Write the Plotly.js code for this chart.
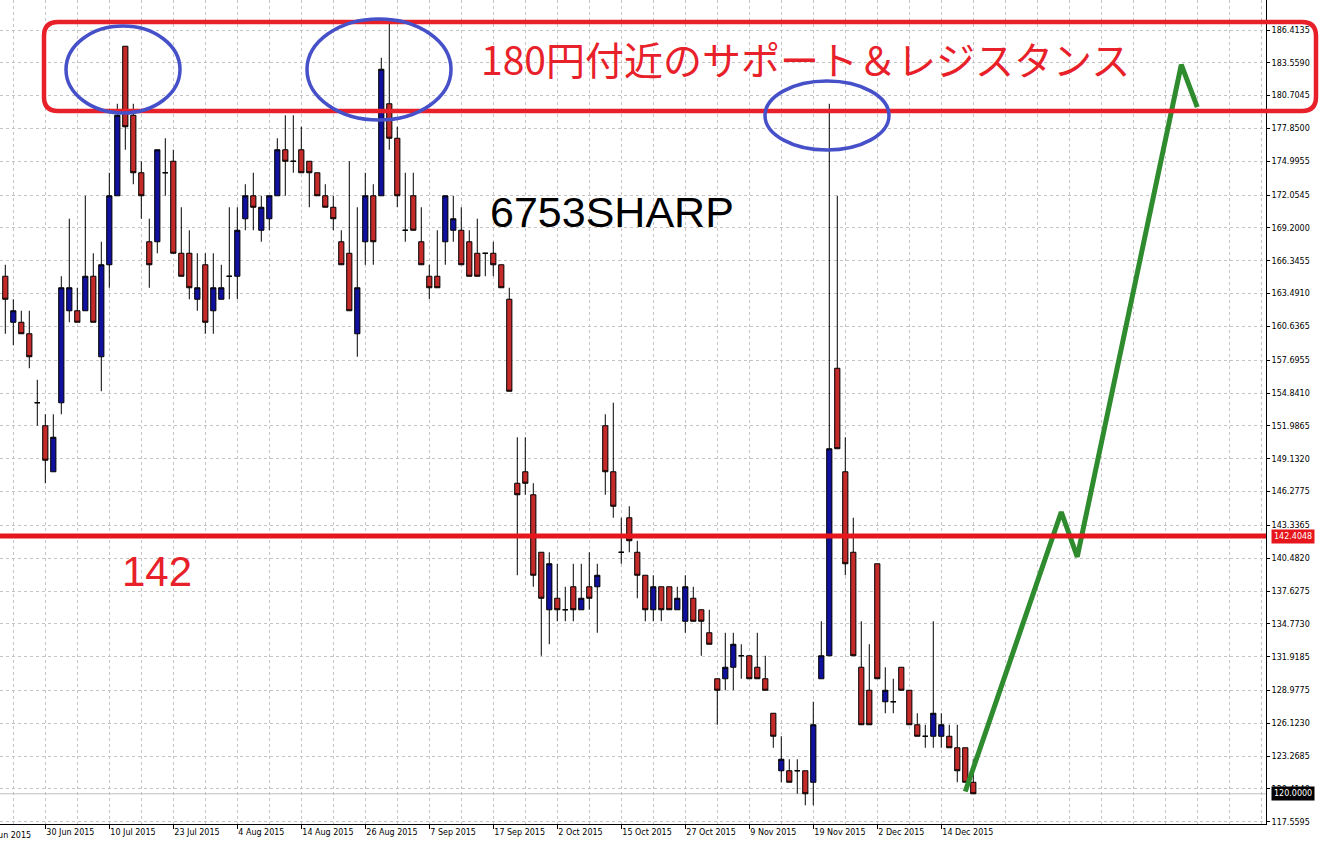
<!DOCTYPE html>
<html><head><meta charset="utf-8">
<script src="https://cdn.plot.ly/plotly-3.0.1.min.js"></script>
<style>html,body{margin:0;padding:0;background:#fff;overflow:hidden}#chart{width:1320px;height:844px}</style>
</head><body><div id="chart"></div>
<script>
// ---- data ----
const dates = [
'2015-06-23','2015-06-24','2015-06-25','2015-06-26','2015-06-29','2015-06-30','2015-07-01','2015-07-02','2015-07-03','2015-07-06',
'2015-07-07','2015-07-08','2015-07-09','2015-07-10','2015-07-13','2015-07-14','2015-07-15','2015-07-16','2015-07-17','2015-07-21',
'2015-07-22','2015-07-23','2015-07-24','2015-07-27','2015-07-28','2015-07-29','2015-07-30','2015-07-31','2015-08-03','2015-08-04',
'2015-08-05','2015-08-06','2015-08-07','2015-08-10','2015-08-11','2015-08-12','2015-08-13','2015-08-14','2015-08-17','2015-08-18',
'2015-08-19','2015-08-20','2015-08-21','2015-08-24','2015-08-25','2015-08-26','2015-08-27','2015-08-28','2015-08-31','2015-09-01',
'2015-09-02','2015-09-03','2015-09-04','2015-09-07','2015-09-08','2015-09-09','2015-09-10','2015-09-11','2015-09-14','2015-09-15',
'2015-09-16','2015-09-17','2015-09-18','2015-09-24','2015-09-25','2015-09-28','2015-09-29','2015-09-30','2015-10-01','2015-10-02',
'2015-10-05','2015-10-06','2015-10-07','2015-10-08','2015-10-09','2015-10-13','2015-10-14','2015-10-15','2015-10-16','2015-10-19',
'2015-10-20','2015-10-21','2015-10-22','2015-10-23','2015-10-26','2015-10-27','2015-10-28','2015-10-29','2015-10-30','2015-11-02',
'2015-11-04','2015-11-05','2015-11-06','2015-11-09','2015-11-10','2015-11-11','2015-11-12','2015-11-13','2015-11-16','2015-11-17',
'2015-11-18','2015-11-19','2015-11-20','2015-11-24','2015-11-25','2015-11-26','2015-11-27','2015-11-30','2015-12-01','2015-12-02',
'2015-12-03','2015-12-04','2015-12-07','2015-12-08','2015-12-09','2015-12-10','2015-12-11','2015-12-14','2015-12-15','2015-12-16',
'2015-12-17','2015-12-18'];
const openP = [
165,161,161,160,154,152,148,154,162,162, 162,165,158,166,172,185,179,174,168,168,
174,175,167,167,163,166,162,163,165,165, 170,172,169,170,172,176,175,176,175,174,
172,171,168,167,160,168,172,172,180,177, 169,172,168,165,165,168,169,169,168,167,
167,167,166,163,147,148,146,141,136,137, 136,138,136,138,138,152,148,141,144,141,
139,136,138,138,136,135,137,136,134,130, 130,131,132,132,131,130,127,122,122,122,
122,121,130,132,157,148,141,131,129,140, 128,128,131,129,126,125,125,125,125,124,
124,121];
const highP = [
166,163,162,162,156,153,153,165,170,164, 172,167,168,174,180,185,180,175,170,176,
177,176,171,169,167,167,167,166,171,171, 173,174,172,172,177,179,179,178,175,174,
173,172,169,175,171,174,173,184,187,178, 174,174,171,166,169,172,172,171,169,170,
167,168,166,164,151,151,147,141,141,140, 138,140,140,141,140,153,154,144,145,142,
139,139,138,138,138,139,138,136,136,130, 134,134,133,132,134,132,127,125,123,123,
122,128,135,180,172,151,144,135,133,140, 131,130,131,129,127,126,135,127,126,126,
124,123];
const lowP = [
160,159,160,157,152,147,148,153,161,161, 162,161,155,164,172,176,173,170,164,167,
172,167,165,163,162,160,160,163,163,163, 169,169,168,169,172,172,174,174,171,172,
171,169,166,162,158,166,166,172,176,171, 168,169,166,163,164,166,168,166,165,165,
165,165,164,155,139,146,138,132,133,135, 135,135,136,136,134,146,144,140,141,137,
135,135,135,136,136,134,135,132,133,126, 129,129,130,130,130,129,124,121,121,120,
119,119,130,132,150,139,132,126,126,130, 127,127,129,126,125,124,124,124,124,121,
121,120];
const closeP = [
163,162,160,158,154,149,151,164,164,161, 165,161,166,172,179,178,174,172,166,176,
174,167,165,164,164,161,164,164,165,169, 172,171,171,172,176,175,175,174,174,172,
171,170,166,162,164,172,168,183,177,172, 169,169,166,164,164,172,170,166,165,165,
167,166,164,155,146,147,139,137,140,136, 136,136,137,137,139,148,145,141,142,139,
136,138,136,136,137,138,135,135,133,129, 131,133,132,130,130,129,125,123,121,122,
120,126,132,150,150,140,132,126,126,130, 129,128,129,126,125,125,127,126,124,122,
121,120];
// hand-drawn forecast (bar index, price)
const forecastIdx = [120, 132, 134, 147, 149];
const forecastPrice = [120.2, 144.5, 140.6, 183.4, 179.7];
// axis labels
const tickDates = ['2015-06-30','2015-07-10','2015-07-23','2015-08-04','2015-08-14','2015-08-26','2015-09-07','2015-09-17','2015-10-02','2015-10-15','2015-10-27','2015-11-09','2015-11-19','2015-12-02','2015-12-14'];
const tickLabels = ['30 Jun 2015','10 Jul 2015','23 Jul 2015','4 Aug 2015','14 Aug 2015','26 Aug 2015','7 Sep 2015','17 Sep 2015','2 Oct 2015','15 Oct 2015','27 Oct 2015','9 Nov 2015','19 Nov 2015','2 Dec 2015','14 Dec 2015'];
const leadLabel = '18 Jun 2015', leadIdx = -3;
const priceTicks = [186.4135,183.5590,180.7045,177.8500,174.9955,172.0545,169.2000,166.3455,163.4910,160.6365,157.6955,154.8410,151.9865,149.1320,146.2775,143.3365,140.4820,137.6275,134.7730,131.9185,128.9775,126.1230,123.2685,120.4140,117.5595];
const priceLabels = priceTicks.map(v => v.toFixed(4));
const lineLevel = 142.4048, lineLabel = '142.4048';
const lastPrice = 120.0, lastLabel = '120.0000';
const titleJP = '180円付近のサポート＆レジスタンス';
const titleSym = '6753SHARP';
const levelText = '142';

// ---- layout helpers ----
const plotW = 1266, plotH = 824;
const xMin = -0.6625, xMax = 157.59;
const yMin = 117.37, yMax = 189.022;
const fx = px => px / plotW;
const fy = py => 1 - py / plotH;
const idx = dates.map((d, i) => i);
const tickvals = tickDates.map(d => dates.indexOf(d));
const gridIdx = []; for (let k = 1; k <= 157; k += 4) gridIdx.push(k);

function rrect(x0, y0, x1, y1, r) {
  const P = (x, y) => fx(x).toFixed(5) + ',' + fy(y).toFixed(5);
  return 'M' + P(x0 + r, y0) + ' L' + P(x1 - r, y0) + ' Q' + P(x1, y0) + ' ' + P(x1, y0 + r) +
    ' L' + P(x1, y1 - r) + ' Q' + P(x1, y1) + ' ' + P(x1 - r, y1) +
    ' L' + P(x0 + r, y1) + ' Q' + P(x0, y1) + ' ' + P(x0, y1 - r) +
    ' L' + P(x0, y0 + r) + ' Q' + P(x0, y0) + ' ' + P(x0 + r, y0) + ' Z';
}
function ellipse(x0, y0, x1, y1) {
  return {type:'circle', xref:'paper', yref:'paper', x0:fx(x0), x1:fx(x1), y0:fy(y1), y1:fy(y0),
    line:{color:'#4650c8', width:3.5}, layer:'above'};
}

const RED = '#e8202a';
const gridCol = '#c4c4c4';
const smallFont = {family:'DejaVu Sans', size:8, color:'#000'};

const traces = [{
  type:'candlestick', x: idx, open: openP, high: highP, low: lowP, close: closeP,
  increasing:{line:{color:'#000', width:1}, fillcolor:'#10109c'},
  decreasing:{line:{color:'#000', width:1}, fillcolor:'#c42a2a'},
  whiskerwidth:0, hoverinfo:'none', showlegend:false
}, {
  type:'scatter', mode:'lines', x: forecastIdx, y: forecastPrice,
  line:{color:'#2e8b2e', width:5}, hoverinfo:'none', showlegend:false
}];

const layout = {
  width:1320, height:844, margin:{l:0, r:54, t:0, b:20, pad:0},
  paper_bgcolor:'#fff', plot_bgcolor:'#fff', showlegend:false,
  boxgap:0.35, boxgroupgap:0,
  font: smallFont,
  xaxis:{
    type:'linear', range:[xMin, xMax], rangeslider:{visible:false},
    tickmode:'array', tickvals: tickvals, ticktext: tickLabels,
    ticks:'outside', ticklen:4, tickcolor:'#000', tickwidth:1,
    ticklabelposition:'outside right', tickfont: smallFont,
    showline:true, linecolor:'#000', linewidth:1, zeroline:false,
    showgrid:true, gridcolor:gridCol, griddash:'3px,3px', gridwidth:1,
    minor:{tickmode:'array', tickvals: gridIdx, showgrid:true, gridcolor:gridCol, griddash:'3px,3px', ticks:''},
    fixedrange:true
  },
  yaxis:{
    side:'right', range:[yMin, yMax], tickmode:'array', tickvals: priceTicks, ticktext: priceLabels,
    ticks:'outside', ticklen:3, tickcolor:'#000', tickfont: smallFont,
    showline:true, linecolor:'#000', linewidth:1, zeroline:false,
    showgrid:true, gridcolor:gridCol, griddash:'3px,3px', gridwidth:1, fixedrange:true
  },
  shapes:[
    {type:'line', xref:'paper', x0:0, x1:1, yref:'y', y0:lastPrice, y1:lastPrice, line:{color:'#c0c0c0', width:1}, layer:'below'},
    {type:'line', xref:'paper', x0:0, x1:1, yref:'y', y0:lineLevel, y1:lineLevel, line:{color:'#e6161c', width:5}, layer:'above'},
    {type:'path', xref:'paper', yref:'paper', path: rrect(44, 22, 1316, 111, 14), line:{color:RED, width:4.5}, layer:'above'},
    ellipse(66, 26, 180, 113),
    ellipse(307, 19, 451, 120),
    ellipse(765, 81, 889, 150)
  ],
  annotations:[
    {xref:'paper', yref:'paper', x:fx(806), y:fy(58), xanchor:'center', yanchor:'middle', showarrow:false,
     text:titleJP, font:{family:'Noto Sans CJK JP', size:39, color:RED}},
    {xref:'paper', yref:'paper', x:fx(612), y:fy(212), xanchor:'center', yanchor:'middle', showarrow:false,
     text:titleSym, font:{family:'Liberation Sans', size:43, color:'#000'}},
    {xref:'paper', yref:'paper', x:fx(157), y:fy(571), xanchor:'center', yanchor:'middle', showarrow:false,
     text:levelText, font:{family:'Liberation Sans', size:42, color:RED}},
    {xref:'paper', yref:'y', x:1, y:lineLevel, xanchor:'left', yanchor:'middle', xshift:5, showarrow:false,
     text:lineLabel, bgcolor:'#e6161c', borderpad:2, font:{family:'DejaVu Sans', size:8, color:'#fff'}},
    {xref:'paper', yref:'y', x:1, y:lastPrice, xanchor:'left', yanchor:'middle', xshift:5, showarrow:false,
     text:lastLabel, bgcolor:'#000', borderpad:2, font:{family:'DejaVu Sans', size:8, color:'#fff'}},
    {xref:'paper', yref:'paper', x:(leadIdx - xMin) / (xMax - xMin), y:0, xanchor:'left', yanchor:'top', yshift:-5, showarrow:false,
     text:leadLabel, font: smallFont}
  ]
};

Plotly.newPlot('chart', traces, layout, {staticPlot:true, displayModeBar:false});
</script>
</body></html>
